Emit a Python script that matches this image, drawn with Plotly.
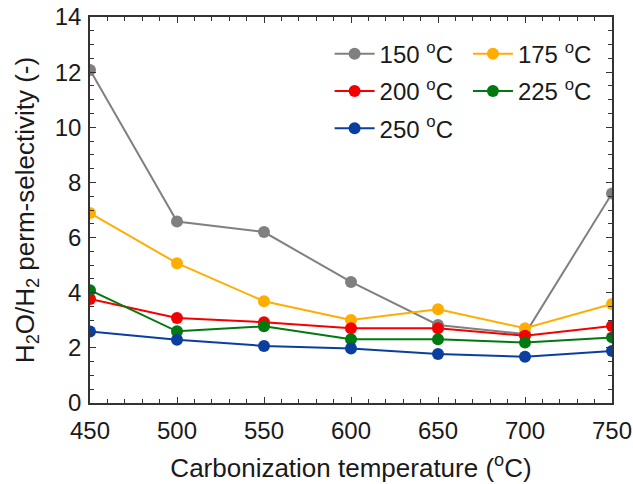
import plotly.graph_objects as go

carb_temp = [450, 500, 550, 600, 650, 700, 750]
sel_150 = [12.08, 6.58, 6.2, 4.39, 2.83, 2.5, 7.6]
sel_175 = [6.89, 5.07, 3.69, 3.01, 3.40, 2.71, 3.59]
sel_200 = [3.77, 3.08, 2.93, 2.71, 2.71, 2.44, 2.79]
sel_225 = [4.09, 2.60, 2.78, 2.31, 2.31, 2.19, 2.38]
sel_250 = [2.59, 2.29, 2.07, 1.98, 1.78, 1.68, 1.89]

series = [
    ("150 <sup>o</sup>C", sel_150, "#808080", "legend"),
    ("175 <sup>o</sup>C", sel_175, "#FFAE00", "legend2"),
    ("200 <sup>o</sup>C", sel_200, "#F50000", "legend"),
    ("225 <sup>o</sup>C", sel_225, "#007A0F", "legend2"),
    ("250 <sup>o</sup>C", sel_250, "#0A3FA0", "legend"),
]

fig = go.Figure()
for i, (name, vals, col, lg) in enumerate(series):
    fig.add_trace(go.Scatter(
        x=carb_temp, y=vals, name=name, mode="lines+markers",
        line=dict(color=col, width=2),
        marker=dict(color=col, size=12),
        legend=lg, legendgroup=f"g{i}",
    ))

FAM = "Liberation Sans, Arial, sans-serif"
tick_font = dict(family=FAM, size=24, color="#1a1a1a")
title_font = dict(family=FAM, size=26, color="#1a1a1a")
legend_font = dict(family=FAM, size=24, color="#1a1a1a")
axis_common = dict(
    showline=True, linecolor="#333333", linewidth=1.5, mirror="allticks",
    ticks="inside", ticklen=6, tickwidth=1.3, tickcolor="#333333",
    showgrid=False, zeroline=False, tickfont=tick_font, automargin=False,
)
fig.update_layout(
    width=633, height=484,
    margin=dict(l=90, r=21, t=17, b=81),
    plot_bgcolor="white", paper_bgcolor="white",
    font=tick_font,
    xaxis=dict(range=[450, 750], dtick=50, tick0=450, ticklabelstandoff=5,
               minor=dict(dtick=10, ticks="inside", ticklen=4, tickcolor="#333333"),
               title=dict(text="Carbonization temperature (<sup>o</sup>C)", font=title_font, standoff=16),
               **axis_common),
    yaxis=dict(range=[0, 14], dtick=2, tick0=0, ticklabelstandoff=2,
               minor=dict(dtick=0.5, ticks="inside", ticklen=4, tickcolor="#333333"),
               title=dict(text="H<sub>2</sub>O/H<sub>2</sub> perm-selectivity (-)", font=title_font, standoff=13),
               **axis_common),
    legend=dict(x=0.459, y=0.962, xanchor="left", yanchor="top", bgcolor="rgba(0,0,0,0)",
                font=legend_font, traceorder="grouped", tracegroupgap=3, itemwidth=40),
    legend2=dict(x=0.724, y=0.962, xanchor="left", yanchor="top", bgcolor="rgba(0,0,0,0)",
                 font=legend_font, traceorder="grouped", tracegroupgap=3, itemwidth=40),
)

fig.write_html("out.html")
